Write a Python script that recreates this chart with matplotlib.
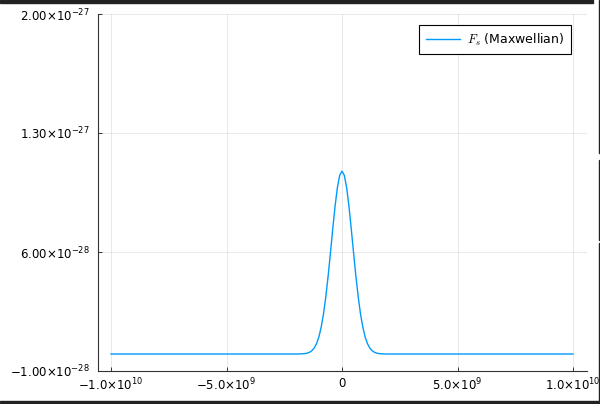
import matplotlib
matplotlib.use("Agg")
import matplotlib.pyplot as plt
from matplotlib.patches import Rectangle
from matplotlib.ticker import FixedLocator, FixedFormatter

# Data
x_vals = [-1.0e10, -2.0e9, -1.8e9, -1.6e9, -1.5e9, -1.4e9, -1.3e9, -1.2e9, -1.1e9, -1.0e9,
          -0.9e9, -0.8e9, -0.7e9, -0.6e9, -0.5e9, -0.4e9, -0.3e9, -0.2e9, -0.1e9, 0.0,
          0.1e9, 0.2e9, 0.3e9, 0.4e9, 0.5e9, 0.6e9, 0.7e9, 0.8e9, 0.9e9, 1.0e9,
          1.1e9, 1.2e9, 1.3e9, 1.4e9, 1.5e9, 1.6e9, 1.8e9, 2.0e9, 1.0e10]
y_vals = [0.0, 0.0, 0.0005e-27, 0.0025e-27, 0.0053e-27, 0.0105e-27, 0.0199e-27, 0.0358e-27,
          0.0617e-27, 0.101e-27, 0.159e-27, 0.237e-27, 0.338e-27, 0.459e-27, 0.596e-27,
          0.737e-27, 0.870e-27, 0.979e-27, 1.051e-27, 1.076e-27,
          1.051e-27, 0.979e-27, 0.870e-27, 0.737e-27, 0.596e-27, 0.459e-27, 0.338e-27,
          0.237e-27, 0.159e-27, 0.101e-27, 0.0617e-27, 0.0358e-27, 0.0199e-27, 0.0105e-27,
          0.0053e-27, 0.0025e-27, 0.0005e-27, 0.0, 0.0]

x_ticks = [-1.0e10, -5.0e9, 0.0, 5.0e9, 1.0e10]
x_ticklabels = ["\u22121.0\u00d710$^{10}$", "\u22125.0\u00d710$^{9}$", "0",
                "5.0\u00d710$^{9}$", "1.0\u00d710$^{10}$"]
y_ticks = [-1.0e-28, 6.0e-28, 1.3e-27, 2.0e-27]
y_ticklabels = ["\u22121.00\u00d710$^{-28}$", "6.00\u00d710$^{-28}$",
                "1.30\u00d710$^{-27}$", "2.00\u00d710$^{-27}$"]
series_label = r"$F_s$ (Maxwellian)"

plt.rcParams["font.family"] = ["DejaVu Sans"]
plt.rcParams["mathtext.fontset"] = "dejavusans"

fig = plt.figure(figsize=(6.0, 4.04), dpi=100)
ax = fig.add_axes([98/600, 1-371/404, (587-98)/600, (371-14)/404])

ax.plot(x_vals, y_vals, color="#009AFA", lw=1.0, label=series_label)

ax.set_xlim(-1.0563e10, 1.0606e10)
ax.set_ylim(-1.0e-28, 2.0e-27)

ax.xaxis.set_major_locator(FixedLocator(x_ticks))
ax.xaxis.set_major_formatter(FixedFormatter(x_ticklabels))
ax.yaxis.set_major_locator(FixedLocator(y_ticks))
ax.yaxis.set_major_formatter(FixedFormatter(y_ticklabels))

ax.grid(True, color="black", alpha=0.1, lw=0.6)
ax.set_axisbelow(True)
for s in ["top", "right"]:
    ax.spines[s].set_visible(False)
for s in ["left", "bottom"]:
    ax.spines[s].set_color("#333333")
    ax.spines[s].set_linewidth(0.8)
ax.tick_params(direction="in", length=3, width=0.7, color="#333333",
               labelsize=8.5, labelcolor="black")
ax.tick_params(axis="y", pad=6)
ax.tick_params(axis="x", pad=4)

leg = ax.legend(loc="upper right", bbox_to_anchor=(571/600, 1-25/404),
                bbox_transform=fig.transFigure, fontsize=8.5, fancybox=False,
                framealpha=1, edgecolor="black", handlelength=2.9,
                borderpad=0.55, handletextpad=0.6, borderaxespad=0)
leg.get_frame().set_linewidth(0.8)
for t in leg.get_texts():
    t.set_math_fontfamily("cm")
    t.set_fontsize(9)

# dark frame edges of the screenshot
def band(x0, y0, w, h):
    fig.patches.append(Rectangle((x0/600, 1-(y0+h)/404), w/600, h/404,
                                 transform=fig.transFigure, color="#222222", zorder=10))

band(0, 0, 593, 2.5)
band(598.5, 0, 1.5, 153)
band(598.5, 160, 1.5, 80)
band(598.5, 243, 1.5, 161)
band(0, 400.5, 600, 2)

fig.savefig("out.png", dpi=100)
